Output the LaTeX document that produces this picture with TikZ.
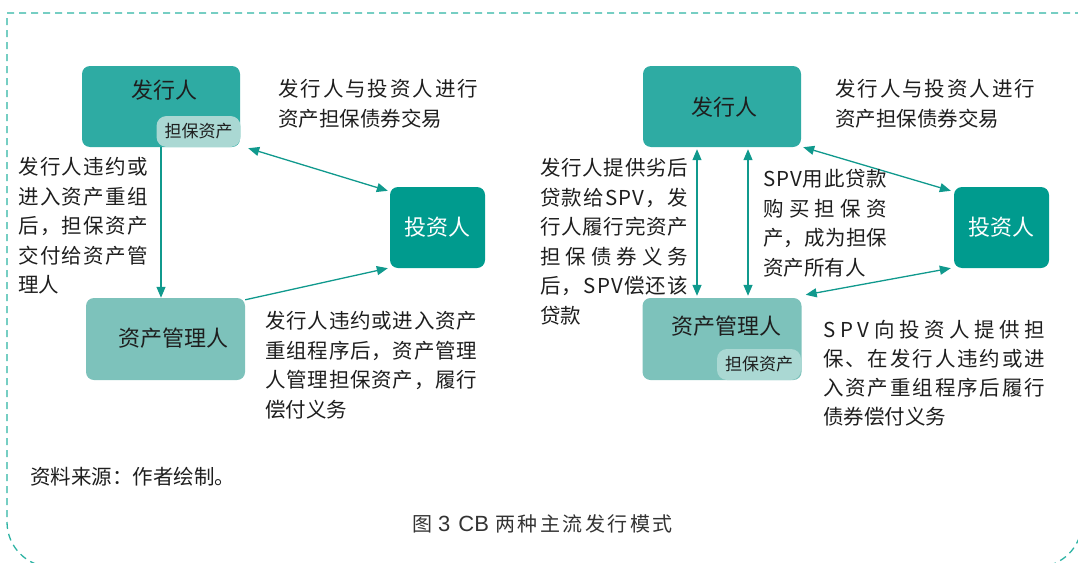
\documentclass[tikz,border=0pt]{standalone}
\usepackage{fontspec}
\newfontfamily\cjk{Noto Sans CJK SC}
\newfontfamily\arialike{Liberation Sans}
\usetikzlibrary{arrows.meta}
\definecolor{bordc}{HTML}{2DB3A3}
\definecolor{issuerc}{HTML}{2EABA3}
\definecolor{invc}{HTML}{009B8E}
\definecolor{mgrc}{HTML}{7DC2BB}
\definecolor{subc}{HTML}{AAD8D3}
\definecolor{arrc}{HTML}{10998D}
\definecolor{txtc}{HTML}{1E1E1E}
\definecolor{capc}{HTML}{333333}
\def\spr#1#2{\hbox to #1{\expandafter\sprfirst#2\relax}}
\def\sprfirst#1{#1\sprrest}
\def\sprrest#1{\ifx\relax#1\else\hfill#1\expandafter\sprrest\fi}
\begin{document}
\begin{tikzpicture}[x=1pt,y=-1pt,
  box/.style={rounded corners=8pt, inner sep=0pt, draw=none},
  issuer/.style={box, fill=issuerc, minimum width=158pt, minimum height=81pt},
  inv/.style={box, fill=invc, minimum width=95pt, minimum height=81pt, text=white, font=\cjk\fontsize{22}{26}\selectfont},
  mgr/.style={box, fill=mgrc, minimum width=159pt, minimum height=82pt},
  subbox/.style={rounded corners=10pt, fill=subc, inner sep=0pt, minimum width=84pt, minimum height=31pt, text=txtc, font=\cjk\fontsize{17}{20}\selectfont},
  boxtxt/.style={inner sep=0pt, text=txtc, font=\cjk\fontsize{22}{26}\selectfont},
  txt/.style={inner sep=0pt, anchor=west, text=txtc, font=\cjk\fontsize{20.5}{24}\selectfont},
  arr/.style={draw=arrc, line width=1.3pt},
  tip/.style={-{Triangle[length=11pt,width=9pt]}},
  dtip/.style={{Triangle[length=11pt,width=9pt]}-{Triangle[length=11pt,width=9pt]}}
]
\useasboundingbox (0,0) rectangle (1078,562);
\draw[bordc, line width=1.3pt, dash pattern=on 7pt off 5pt]
  (1082,13) -- (7,13) [rounded corners=45pt] -- (7,567) -- (1082,567) -- (1082,13);

% ---------- left diagram ----------
\node[issuer] (LI) at (161,106.5) {};
\node[boxtxt] (LIt) at (164,90) {发行人};
\node[subbox] (LIs) at (198.5,131.5) {担保资产};
\node[inv] (LV) at (437.5,227.5) {投资人};
\node[mgr] (LM) at (165.5,339) {};
\node[boxtxt] (LMt) at (173,338) {资产管理人};

\draw[arr,tip] (LI.south) -- (LI.south |- LM.north);
\draw[arr,dtip] ([shift={(8,1)}]LI.south east) -- ([shift={(-2,4)}]LV.north west);
\draw[arr,tip] ([shift={(0,2)}]LM.north east) -- ([shift={(-2,0)}]LV.south west);

\node[txt] (lt1) at (278,89) {\spr{200pt}{发行人与投资人进行}};
\node[txt] (lt2) at (278,119) {资产担保债券交易};

\node[txt] (ll1) at (18,167) {\spr{130pt}{发行人违约或}};
\node[txt] (ll2) at (18,196.5) {\spr{130pt}{进入资产重组}};
\node[txt] (ll3) at (18,226) {\spr{130pt}{后，担保资产}};
\node[txt] (ll4) at (18,255.5) {\spr{130pt}{交付给资产管}};
\node[txt] (ll5) at (18,285) {理人};

\node[txt] (lb1) at (265,321) {\spr{212pt}{发行人违约或进入资产}};
\node[txt] (lb2) at (265,350.5) {\spr{212pt}{重组程序后，资产管理}};
\node[txt] (lb3) at (265,380) {\spr{212pt}{人管理担保资产，履行}};
\node[txt] (lb4) at (265,409.5) {偿付义务};

\node[txt] (src) at (30,477) {资料来源：作者绘制。};

% ---------- right diagram ----------
\node[issuer] (RI) at (722,106.5) {};
\node[boxtxt] (RIt) at (724,107) {发行人};
\node[inv] (RV) at (1001.5,227.5) {投资人};
\node[mgr] (RM) at (722,339) {};
\node[boxtxt] (RMt) at (726,326) {资产管理人};
\node[subbox] (RMs) at (759,364.5) {担保资产};

\coordinate (c697) at (697,0);
\coordinate (c748) at (748,0);
\draw[arr,dtip,shorten <=2pt,shorten >=2pt] (RI.south -| c697) -- (RM.north -| c697);
\draw[arr,dtip,shorten <=2pt,shorten >=2pt] (RI.south -| c748) -- (RM.north -| c748);
\draw[arr,dtip] ([shift={(2,0)}]RI.south east) -- ([shift={(-3,4)}]RV.north west);
\draw[arr,dtip] ([shift={(-3,0)}]RV.south west) -- ([shift={(4,-3)}]RM.north east);

\node[txt] (rt1) at (835,89) {\spr{200pt}{发行人与投资人进行}};
\node[txt] (rt2) at (835,119) {资产担保债券交易};

\node[txt] (rl1) at (540,168) {\spr{148pt}{发行人提供劣后}};
\node[txt] (rl2) at (540,197.5) {\spr{148pt}{贷款给SPV，发}};
\node[txt] (rl3) at (540,227) {\spr{148pt}{行人履行完资产}};
\node[txt] (rl4) at (540,256.5) {\spr{148pt}{担保债券义务}};
\node[txt] (rl5) at (540,286) {\spr{148pt}{后，SPV偿还该}};
\node[txt] (rl6) at (540,315.5) {贷款};

\node[txt] (rm1) at (763,179) {\spr{124pt}{SPV用此贷款}};
\node[txt] (rm2) at (763,208.5) {\spr{124pt}{购买担保资}};
\node[txt] (rm3) at (763,238) {\spr{124pt}{产，成为担保}};
\node[txt] (rm4) at (763,267.5) {资产所有人};

\node[txt] (rb1) at (823,330) {\spr{222pt}{SPV向投资人提供担}};
\node[txt] (rb2) at (823,359) {\spr{222pt}{保、在发行人违约或进}};
\node[txt] (rb3) at (823,388) {\spr{222pt}{入资产重组程序后履行}};
\node[txt] (rb4) at (823,417) {债券偿付义务};

% ---------- caption ----------
\node[txt, text=capc, font=\cjk\fontsize{20}{24}\selectfont] (cap) at (412,524)
  {图\hspace{6pt}{\arialike\fontsize{22}{26}\selectfont 3\hspace{8pt}CB}\hspace{6pt}\spr{178pt}{两种主流发行模式}};
\end{tikzpicture}
\end{document}
